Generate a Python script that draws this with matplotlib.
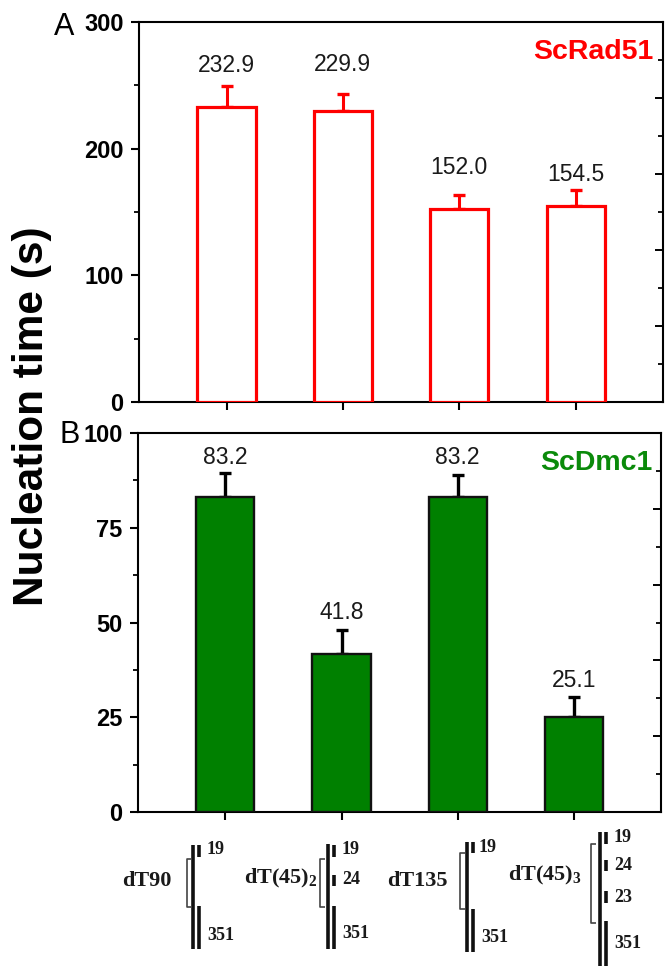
import matplotlib
matplotlib.use("Agg")
import matplotlib.pyplot as plt

W, H = 671, 966
categories = ["dT90", "dT(45)2", "dT135", "dT(45)3"]
rad51_values = [232.9, 229.9, 152.0, 154.5]
rad51_errors = [16.5, 13.5, 11.5, 13]
dmc1_values = [83.2, 41.8, 83.2, 25.1]
dmc1_errors = [6.2, 6.2, 5.7, 5.2]
rad51_ticks = [0, 100, 200, 300]
rad51_minor = [50, 150, 250]
rad51_right_major = [60, 120, 180, 240]
rad51_right_minor = [30, 90, 150, 210, 270]
dmc1_ticks = [0, 25, 50, 75, 100]
dmc1_minor = [12.5, 37.5, 62.5, 87.5]
dmc1_right_major = [20, 40, 60, 80]
dmc1_right_minor = [10, 30, 50, 70, 90]

plt.rcParams['font.family'] = ['Liberation Sans', 'DejaVu Sans']
plt.rcParams['mathtext.fontset'] = 'custom'
plt.rcParams['mathtext.bf'] = 'Liberation Serif:bold'
plt.rcParams['mathtext.rm'] = 'Liberation Serif:bold'
fig = plt.figure(figsize=(W/100, H/100), dpi=100)

def mkax(l, r, t, b):
    return fig.add_axes([l/W, 1-b/H, (r-l)/W, (b-t)/H])

PX = 0.72
ax1 = mkax(139, 663, 22, 402)
ax2 = mkax(138, 661, 433, 812)
pos = [0, 1, 2, 3]

def style(ax, ylim, ticks, minor, rmajor, rminor):
    ax.set_ylim(*ylim)
    ax.set_xlim(-0.752, 3.75)
    for s in ax.spines.values():
        s.set_linewidth(1.5)
    ax.set_xticks(pos)
    ax.set_xticklabels([])
    ax.tick_params(axis='x', length=6, width=1.5)
    ax.set_yticks(ticks)
    ax.set_yticks(minor, minor=True)
    ax.set_yticklabels([str(v) for v in ticks], fontweight='bold', fontsize=17)
    ax.tick_params(axis='y', which='major', length=6, width=1.5, pad=5)
    ax.tick_params(axis='y', which='minor', length=3.3, width=1.3)
    tw = ax.twinx()
    tw.set_ylim(*ylim)
    tw.set_yticks(rmajor)
    tw.set_yticks(rminor, minor=True)
    tw.set_yticklabels([])
    tw.tick_params(axis='y', which='major', direction='in', length=6, width=1.4)
    tw.tick_params(axis='y', which='minor', direction='in', length=3.3, width=1.3)
    for s in tw.spines.values():
        s.set_visible(False)

style(ax1, (0, 300), rad51_ticks, rad51_minor, rad51_right_major, rad51_right_minor)
style(ax2, (0, 100), dmc1_ticks, dmc1_minor, dmc1_right_major, dmc1_right_minor)

rad51_gaps = [21, 29, 27, 15]
dmc1_gaps = [16, 18, 18, 17]

ax1.bar(pos, rad51_values, width=0.5, facecolor='white', edgecolor='#ff0000', linewidth=2.3, zorder=3)
ax1.errorbar(pos, rad51_values, yerr=[[0]*4, rad51_errors], fmt='none', ecolor='#ff0000', elinewidth=2.2, capsize=4, capthick=2.4, zorder=2)
for x, v, e, g in zip(pos, rad51_values, rad51_errors, rad51_gaps):
    ax1.annotate(f"{v:.1f}", (x, v+e), xytext=(0, g*PX), textcoords='offset points', ha='center', va='center', fontsize=16.5, color='#1a1a1a')
ax1.text(0.981, 0.921, "ScRad51", transform=ax1.transAxes, ha='right', va='center', color='#ff0000', fontsize=20.5, fontweight='bold')

ax2.bar(pos, dmc1_values, width=0.5, facecolor='#008000', edgecolor='#111111', linewidth=1.7, zorder=3)
ax2.errorbar(pos, dmc1_values, yerr=[[0]*4, dmc1_errors], fmt='none', ecolor='black', elinewidth=2.4, capsize=4, capthick=2.4, zorder=2)
for x, v, e, g in zip(pos, dmc1_values, dmc1_errors, dmc1_gaps):
    ax2.annotate(f"{v:.1f}", (x, v+e), xytext=(0, g*PX), textcoords='offset points', ha='center', va='center', fontsize=16.5, color='#1a1a1a')
ax2.text(0.983, 0.921, "ScDmc1", transform=ax2.transAxes, ha='right', va='center', color='#0a8a0a', fontsize=20.5, fontweight='bold')

def ftext(x, y, s, **kw):
    fig.text(x/W, 1-y/H, s, **kw)

ftext(32, 416, "Nucleation time (s)", rotation=90, ha='center', va='center', fontsize=30.5, fontweight='bold')
ftext(64, 27, "A", ha='center', va='center', fontsize=22)
ftext(70, 435, "B", ha='center', va='center', fontsize=22)

def line(xs, ys, lw=2.2, color='#111111'):
    fig.add_artist(plt.Line2D([x/W for x in xs], [1-y/H for y in ys], color=color, linewidth=lw, solid_capstyle='butt'))

serif = dict(family='Liberation Serif', fontweight='bold', color='#1a1a1a', va='center')
def schematic(x0, top, bottom, gaps, lab, labx, laby, brx, brt, brb, lower_top, nums):
    line([x0, x0], [top, bottom], 2.6)
    line([x0+6, x0+6], [lower_top, bottom], 2.6)
    for (a, b) in gaps:
        line([x0+6, x0+6], [a, b], 2.6)
    for y, x, n in nums:
        ftext(x, y, n, fontsize=13, ha='left', **serif)
    ftext(labx, laby, lab, fontsize=16, ha='center', **serif)
    line([brx+5, brx, brx, brx+5], [brt, brt, brb, brb], 1.2, '#444444')

schematic(193, 845, 949, [(845, 857)], categories[0], 147, 881, 187, 859, 907, 906,
          [(850, 207, "19"), (935, 207, "351")])
schematic(328, 844, 949, [(845, 857), (875, 886)], r"dT(45)$_{\mathbf{2}}$", 281, 878, 320, 859, 907, 906,
          [(849, 342, "19"), (880, 342, "24"), (934, 342, "351")])
schematic(467, 842, 952, [(842, 853)], categories[2], 417, 881, 460, 853, 909, 909,
          [(847, 479, "19"), (937, 481, "351")])
schematic(600, 832, 966, [(832, 844), (860, 871), (891, 903)], r"dT(45)$_{\mathbf{3}}$", 545, 875, 591, 844, 923, 921,
          [(837, 614, "19"), (866, 614, "24"), (897, 614, "23"), (944, 614, "351")])

fig.savefig("out.png", dpi=100)
